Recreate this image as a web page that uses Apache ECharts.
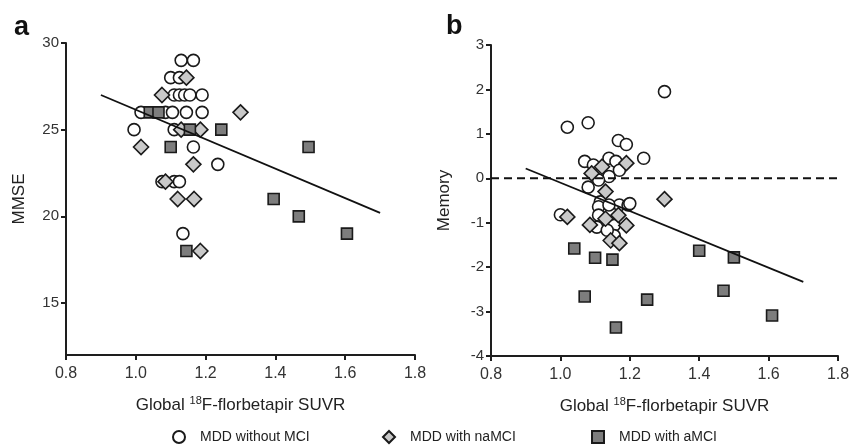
<!DOCTYPE html>
<html><head><meta charset="utf-8">
<script src="https://cdn.jsdelivr.net/npm/echarts@6/dist/echarts.min.js"></script>
<style>html,body{margin:0;padding:0;background:#fff}#c{width:862px;height:446px}</style>
</head><body><div id="c"></div>
<script>
// ---- data ----
const xTicks = [0.8, 1.0, 1.2, 1.4, 1.6, 1.8];
const mmseTicks = [15, 20, 25, 30];
const memoryTicks = [-4, -3, -2, -1, 0, 1, 2, 3];
const seriesNames = ['MDD without MCI', 'MDD with naMCI', 'MDD with aMCI'];

// Panel a: MMSE
const mmseNoMCI = [[1.13,29],[1.165,29],[1.10,28],[1.125,28],[1.11,27],[1.125,27],[1.14,27],[1.155,27],[1.19,27],
  [1.015,26],[1.085,26],[1.105,26],[1.145,26],[1.19,26],[0.995,25],[1.11,25],[1.165,24],[1.235,23],
  [1.075,22],[1.11,22],[1.125,22],[1.135,19]];
const mmseNaMCI = [[1.145,28],[1.075,27],[1.30,26],[1.13,25],[1.185,25],[1.015,24],[1.165,23],[1.085,22],
  [1.12,21],[1.167,21],[1.185,18]];
const mmseAMCI = [[1.04,26],[1.065,26],[1.155,25],[1.245,25],[1.10,24],[1.495,24],[1.395,21],[1.467,20],[1.605,19],[1.145,18]];
const mmseFit = [[0.9,27.0],[1.7,20.2]];

// Panel b: Memory
const memNoMCI = [[1.30,1.95],[1.02,1.15],[1.08,1.25],[1.167,0.85],[1.19,0.76],[1.24,0.45],[1.07,0.38],[1.095,0.30],
  [1.14,0.45],[1.16,0.38],[1.17,0.18],[1.14,0.04],[1.11,-0.04],[1.08,-0.2],[1.115,-0.53],[1.17,-0.6],[1.195,-0.6],
  [1.00,-0.82],[1.11,-0.64],[1.14,-0.6],[1.20,-0.57],[1.11,-0.83],[1.105,-1.1],[1.155,-1.06],[1.155,-1.29],[1.135,-1.17]];
const memNaMCI = [[1.19,0.34],[1.12,0.26],[1.09,0.11],[1.13,-0.3],[1.30,-0.47],[1.02,-0.87],[1.085,-1.05],[1.13,-0.91],
  [1.167,-0.83],[1.19,-1.06],[1.145,-1.4],[1.17,-1.46]];
const memAMCI = [[1.04,-1.58],[1.10,-1.79],[1.15,-1.83],[1.07,-2.66],[1.25,-2.73],[1.16,-3.36],[1.40,-1.63],[1.50,-1.78],[1.47,-2.53],[1.61,-3.09]];
const memFit = [[0.9,0.22],[1.7,-2.33]];
const memZero = [[0.8,0],[1.8,0]];

// ---- styles ----
const FONT = '"Liberation Sans", Arial, sans-serif';
const axisColor = '#1e1e1e';
const textColor = '#333';
const styles = [
  {symbol:'circle', symbolSize:12, itemStyle:{color:'#ffffff', borderColor:'#1a1a1a', borderWidth:1.6, opacity:1}},
  {symbol:'diamond', symbolSize:15, itemStyle:{color:'#c9c9c9', borderColor:'#1a1a1a', borderWidth:1.6, opacity:1}},
  {symbol:'rect', symbolSize:11, itemStyle:{color:'#7d7d7d', borderColor:'#1a1a1a', borderWidth:1.6, opacity:1}}
];

function xAxis(gridIndex){
  return {
    type:'value', gridIndex, min:xTicks[0], max:xTicks[xTicks.length-1],
    axisLine:{show:true, onZero:false, lineStyle:{color:axisColor, width:2}},
    axisTick:{show:true, length:5, lineStyle:{color:axisColor, width:2}, customValues:xTicks},
    axisLabel:{color:textColor, fontSize:16, fontFamily:FONT, margin:11, customValues:xTicks, formatter:v=>v.toFixed(1)},
    splitLine:{show:false},
    name:'{n|Global }{s|18}{n|F-florbetapir SUVR}', nameLocation:'middle', nameGap:40,
    nameTextStyle:{rich:{
      n:{fontSize:17, fontFamily:FONT, color:'#222', lineHeight:20},
      s:{fontSize:11, fontFamily:FONT, color:'#222', lineHeight:10, verticalAlign:'top'}
    }}
  };
}
function yAxis(gridIndex, min, max, ticks, name){
  return {
    type:'value', gridIndex, min, max,
    axisLine:{show:true, onZero:false, lineStyle:{color:axisColor, width:2}},
    axisTick:{show:true, length:5, lineStyle:{color:axisColor, width:2}, customValues:ticks},
    axisLabel:{color:textColor, fontSize:15, fontFamily:FONT, margin:7, customValues:ticks},
    splitLine:{show:false},
    name, nameLocation:'middle', nameGap:38, nameRotate:90,
    nameTextStyle:{fontSize:17, fontFamily:FONT, color:'#222'}
  };
}
function scatter(name, data, idx, s){
  return Object.assign({type:'scatter', name, data, xAxisIndex:idx, yAxisIndex:idx, z:3+styles.indexOf(s), silent:true}, JSON.parse(JSON.stringify(s)));
}
function line(data, idx, dashed){
  return {type:'line', data, xAxisIndex:idx, yAxisIndex:idx, symbol:'none', silent:true, z:10,
    lineStyle:{color:'#111', width: dashed?2:1.8, type: dashed?[8,5]:'solid'}};
}

const chart = echarts.init(document.getElementById('c'), null, {renderer:'canvas'});
const legendLefts = [172, 382, 591];
chart.setOption({
  animation:false,
  backgroundColor:'#ffffff',
  grid:[
    {left:66, top:43, right:862-415, bottom:446-355},
    {left:491, top:45, right:862-838, bottom:446-356}
  ],
  xAxis:[xAxis(0), xAxis(1)],
  yAxis:[yAxis(0, 12, 30, mmseTicks, 'MMSE'), yAxis(1, -4, 3, memoryTicks, 'Memory')],
  legend: seriesNames.map((n,i)=>({
    data:[n], left:legendLefts[i], top:430, itemWidth:12, itemHeight:12, itemGap:0, padding:0,
    textStyle:{fontSize:14, fontFamily:FONT, color:'#222', padding:[0,0,0,10]}, selectedMode:false
  })),
  graphic:[
    {type:'text', left:14, top:14, style:{text:'a', font:'bold 27px "Liberation Sans", Arial, sans-serif', fill:'#111'}},
    {type:'text', left:446, top:13, style:{text:'b', font:'bold 27px "Liberation Sans", Arial, sans-serif', fill:'#111'}}
  ],
  series:[
    scatter(seriesNames[0], mmseNoMCI, 0, styles[0]),
    scatter(seriesNames[1], mmseNaMCI, 0, styles[1]),
    scatter(seriesNames[2], mmseAMCI, 0, styles[2]),
    line(mmseFit, 0, false),
    scatter(seriesNames[0], memNoMCI, 1, styles[0]),
    scatter(seriesNames[1], memNaMCI, 1, styles[1]),
    scatter(seriesNames[2], memAMCI, 1, styles[2]),
    line(memFit, 1, false),
    line(memZero, 1, true)
  ]
});
</script>
</body></html>
